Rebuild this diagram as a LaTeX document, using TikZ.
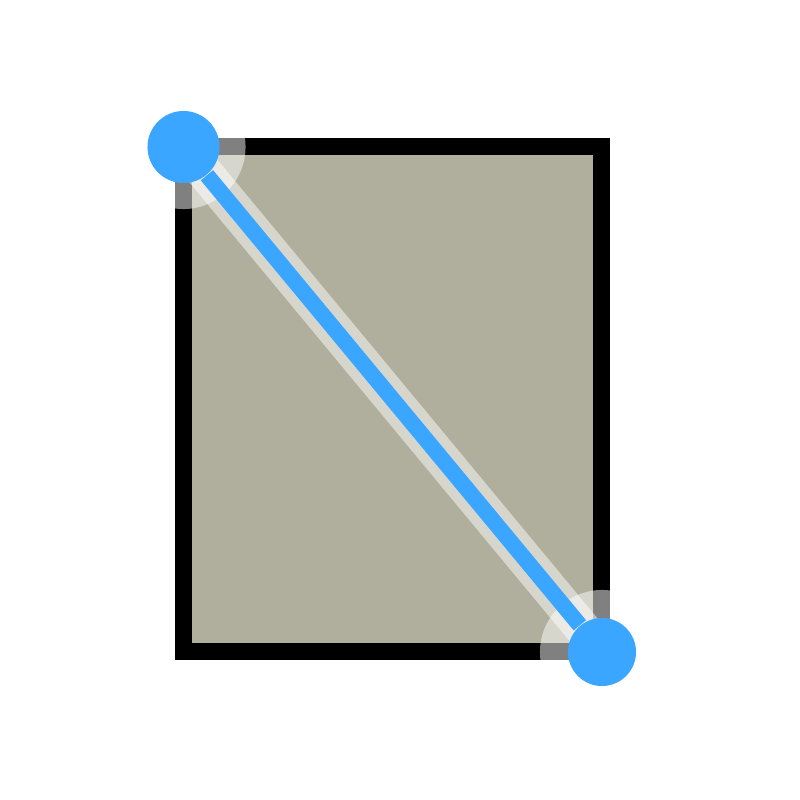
\documentclass[tikz,border=0pt]{standalone}
\usetikzlibrary{arrows}
\definecolor{plate}{RGB}{176,174,156}
\definecolor{grip}{RGB}{58,166,255}
\begin{document}
\begin{tikzpicture}[x=0.01cm,y=-0.01cm]
\tikzset{every node/.style={draw=none,shape=circle,fill=grip,inner sep=0pt,minimum size=0.68cm}}
\tikzset{halo/.style={fill=white,opacity=0.5}}
\useasboundingbox (0,0) rectangle (800,800);

\draw[line width=0.17cm,fill=plate] (183.5,146.5) rectangle (601.5,651.5);

\coordinate (tl) at (183.5,147);
\coordinate (br) at (602,652);
\fill[halo] (tl) circle (0.62cm);
\fill[halo] (br) circle (0.62cm);
\draw[white,opacity=0.5,line width=0.36cm] (tl) -- (br);

\node[minimum size=0.72cm] (a) at (tl) {};
\node (b) at (br) {};
\draw[grip,line width=0.16cm] (a) -- (b);

\end{tikzpicture}
\end{document}
